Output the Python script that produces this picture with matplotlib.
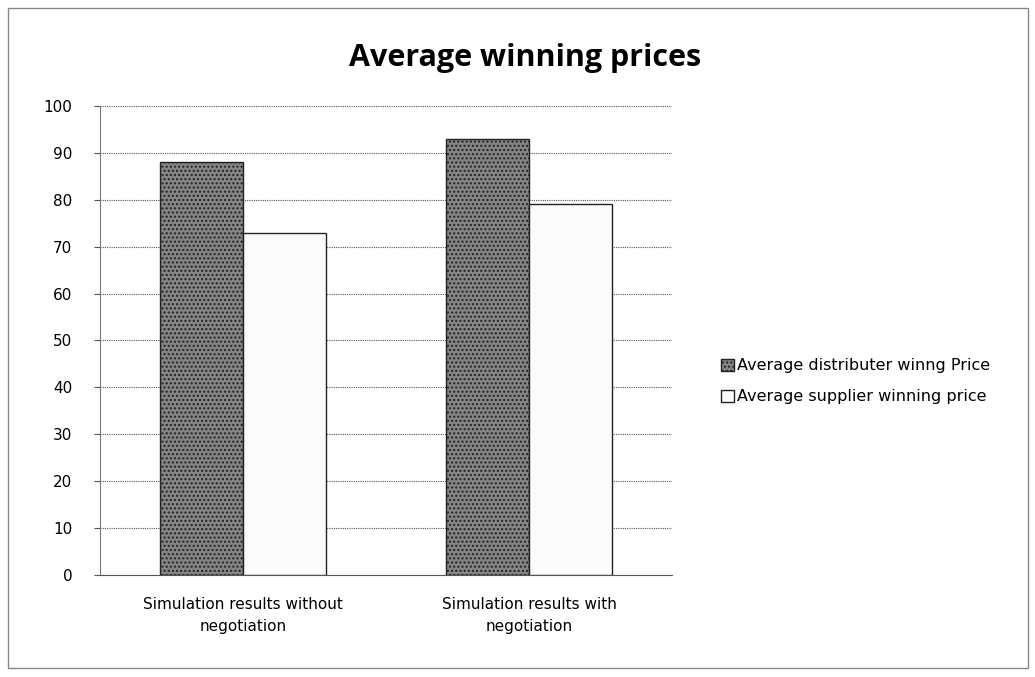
import numpy as np
import matplotlib
matplotlib.use('Agg')
import matplotlib.pyplot as plt
from matplotlib.patches import Rectangle

categories = ['Simulation results without\nnegotiation', 'Simulation results with\nnegotiation']
distributer_price = [88, 93]
supplier_price = [73, 79]
series_names = ['Average distributer winng Price', 'Average supplier winning price']

plt.rcParams['font.family'] = ['DejaVu Sans']
plt.rcParams['hatch.color'] = '#555555'

fig = plt.figure(figsize=(10.35, 6.77), dpi=100)
ax = fig.add_axes([0.0966, 0.1507, 0.5527, 0.6928])

x = np.arange(len(categories))
w = 0.29
ax.bar(x - w / 2, distributer_price, w, color='#858585', edgecolor='#222222',
       linewidth=1.0, hatch='....', label=series_names[0], zorder=3)
ax.bar(x + w / 2, supplier_price, w, color='#fbfbfb', edgecolor='#222222',
       linewidth=1.0, label=series_names[1], zorder=3)

ax.set_xlim(-0.5, 1.5)
ax.set_ylim(0, 100)
ax.set_yticks(np.arange(0, 101, 10))
ax.yaxis.grid(True, color='#555555', linestyle=(0, (1, 1)), linewidth=0.8, zorder=0)
ax.set_xticks(x)
ax.set_xticklabels(categories, fontsize=11, linespacing=1.55)
ax.tick_params(axis='x', length=0, pad=16)
ax.tick_params(axis='y', labelsize=11, length=4, pad=16, color='#555555')
for s in ['top', 'right']:
    ax.spines[s].set_visible(False)
ax.spines['left'].set_color('#777777')
ax.spines['bottom'].set_color('#555555')

fig.text(0.507, 0.915, 'Average winning prices', ha='center', va='center',
         fontsize=22, fontweight='bold', family=['Open Sans', 'DejaVu Sans'])

leg = ax.legend(loc='center left', bbox_to_anchor=(1.06, 0.413), frameon=False,
                fontsize=11.5, handlelength=0.8, handleheight=0.8, handletextpad=0.2,
                labelspacing=1.0)

fig.patches.append(Rectangle((0.008, 0.013), 0.985, 0.975, transform=fig.transFigure,
                             fill=False, edgecolor='#888888', linewidth=1.0))

fig.savefig('out.png', dpi=100)
